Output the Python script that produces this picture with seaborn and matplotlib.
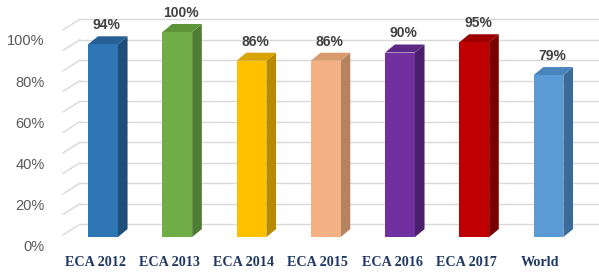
import matplotlib
matplotlib.use("Agg")
import matplotlib.pyplot as plt
from matplotlib.patches import Polygon
from matplotlib.transforms import ScaledTranslation
import seaborn as sns
import pandas as pd

categories = ["ECA 2012", "ECA 2013", "ECA 2014", "ECA 2015", "ECA 2016", "ECA 2017", "World"]
values = [94, 100, 86, 86, 90, 95, 79]
value_labels = ["94%", "100%", "86%", "86%", "90%", "95%", "79%"]
front_colors = ["#2E75B6", "#70AD47", "#FFC000", "#F4B183", "#7030A0", "#C00000", "#5B9BD5"]
side_colors = ["#1F4E79", "#4E7D31", "#B88A00", "#B5835F", "#4A1F6B", "#7A0000", "#3A6B98"]
top_colors = ["#255F96", "#5E9439", "#D9A300", "#D99A6E", "#5C2785", "#9E0000", "#4A84BC"]
ytick_vals = [0, 20, 40, 60, 80, 100]
ytick_labels = ["0%", "20%", "40%", "60%", "80%", "100%"]
grid_vals = [0, 10, 20, 30, 40, 50, 60, 70, 80, 90, 100]

df = pd.DataFrame({"cat": categories, "val": values})

sns.set_style("white")
fig = plt.figure(figsize=(5.99, 2.72), dpi=100)
ax = fig.add_axes([60 / 599, 22 / 272, 539 / 599, 250 / 272])

sns.barplot(data=df, x="cat", y="val", hue="cat", palette=front_colors,
            width=0.4, legend=False, ax=ax, saturation=1, zorder=3)

ax.set_xlim(-0.58, 6.68)
ax.set_ylim(-6.3, 115.6)

# depth of bars (data units)
dx = 0.13
dy = 3.9
# back wall offset
wall_dy = 6.3
wall_x = -0.31

# back grid lines and left wall lines
for g in grid_vals:
    ax.plot([wall_x, 6.68], [g + wall_dy, g + wall_dy], color="#d9d9d9", lw=1.0, zorder=0)
    ax.plot([-0.54, wall_x], [g + 1.0, g + wall_dy], color="#d9d9d9", lw=1.0, zorder=0)

# 3D faces
for p in list(ax.patches):
    x0 = p.get_x()
    w = p.get_width()
    h = p.get_height()
    i = int(round(x0 + w / 2))
    p.set_edgecolor("none")
    side = Polygon([[x0 + w, 0], [x0 + w + dx, dy], [x0 + w + dx, h + dy], [x0 + w, h]],
                   closed=True, facecolor=side_colors[i], edgecolor="none", zorder=2)
    top = Polygon([[x0, h], [x0 + dx, h + dy], [x0 + w + dx, h + dy], [x0 + w, h]],
                  closed=True, facecolor=top_colors[i], edgecolor="none", zorder=2)
    ax.add_patch(side)
    ax.add_patch(top)
    ax.text(i + 0.05, h + dy + 2.0, value_labels[i], ha="center", va="bottom",
            fontsize=10, fontweight="bold", color="#404040", family="Liberation Sans")

for s in ax.spines.values():
    s.set_visible(False)
ax.set_xlabel("")
ax.set_ylabel("")
ax.set_yticks(ytick_vals)
ax.set_yticklabels(ytick_labels)
ax.tick_params(axis="y", length=0, pad=11, labelsize=10.5, labelcolor="#595959")
ax.tick_params(axis="x", length=0, pad=4)
for lab in ax.get_yticklabels():
    lab.set_family("Liberation Sans")
    lab.set_transform(lab.get_transform() + ScaledTranslation(0, -8 / 100, fig.dpi_scale_trans))
ax.set_xticks(range(len(categories)))
ax.set_xticklabels(categories)
for lab in ax.get_xticklabels():
    lab.set_family("Liberation Serif")
    lab.set_fontweight("bold")
    lab.set_fontsize(10.2)
    lab.set_color("#1F3864")
    lab.set_transform(lab.get_transform() + ScaledTranslation(-8 / 100, 0, fig.dpi_scale_trans))

fig.savefig("out.png", dpi=100)
